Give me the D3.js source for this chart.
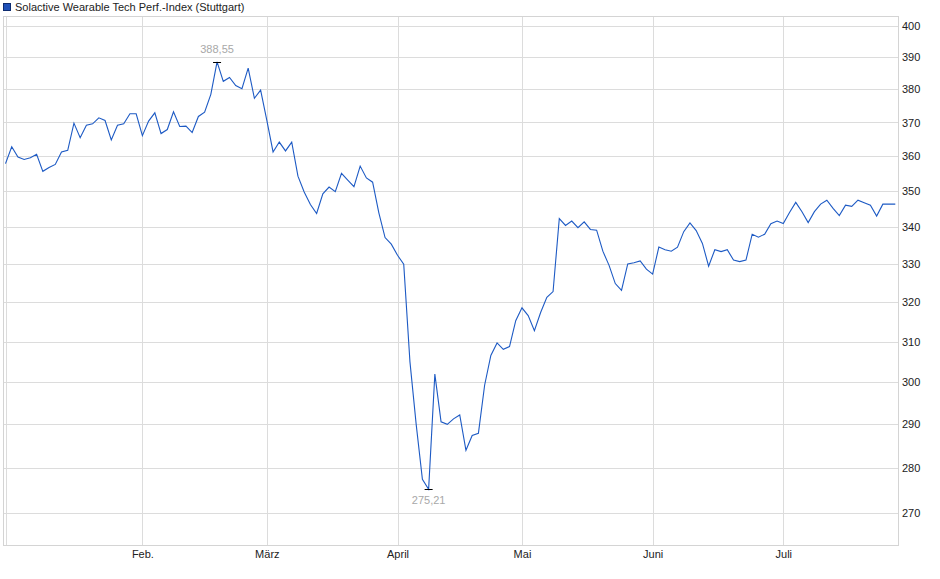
<!DOCTYPE html>
<html>
<head>
<meta charset="utf-8">
<script src="https://cdn.jsdelivr.net/npm/d3@7"></script>
<style>
    body { margin: 0; background: #fff; }
    svg { font-family: Arial, 'Liberation Sans', sans-serif; }
    .grid { stroke: #dcdcdc; stroke-width: 1; shape-rendering: crispEdges; }
    .axis text { font-size: 11px; fill: #222; }
    .axis path, .axis line { display: none; }
    .peak-label { font-size: 11px; fill: #a8a8a8; text-anchor: middle; }
</style>
</head>
<body>
<svg width="940" height="579"></svg>
<script>
// **** Data (one value per trading day, Jan 2 .. Jul 25) ****

var seriesName = 'Solactive Wearable Tech Perf.-Index (Stuttgart)';

var values = [
    357.9, 362.8, 359.8, 359.1, 359.6, 360.6, 355.7, 356.8, 357.7, 361.3,
    361.8, 369.8, 365.5, 369.2, 369.6, 371.4, 370.6, 364.8, 369.2, 369.6,
    372.6, 372.6, 366.1, 370.4, 372.9, 366.7, 367.9, 373.2, 368.8, 368.9,
    367.0, 371.8, 373.1, 378.5, 388.55, 382.5, 383.7, 381.2, 380.2, 386.6,
    377.3, 379.8, 370.6, 361.3, 364.2, 361.6, 364.2, 354.3, 349.8, 346.3,
    343.8, 349.3, 351.2, 349.9, 355.1, 353.2, 351.3, 357.2, 353.8, 352.6,
    344.0, 337.2, 335.4, 332.4, 330.0, 305.0, 290.0, 277.4, 275.21, 302.0,
    290.6, 290.0, 291.3, 292.2, 284.0, 287.4, 287.9, 299.3, 306.6, 309.7,
    308.1, 308.8, 315.3, 318.6, 316.6, 312.8, 317.4, 321.3, 322.8, 342.4,
    340.5, 341.7, 339.9, 341.5, 339.4, 339.2, 333.5, 329.7, 324.9, 323.1,
    330.1, 330.4, 330.9, 328.7, 327.4, 334.6, 333.9, 333.5, 334.6, 338.8,
    341.2, 339.1, 335.6, 329.5, 333.9, 333.4, 333.9, 331.1, 330.7, 331.1,
    338.1, 337.3, 338.1, 341.0, 341.7, 341.0, 344.1, 346.9, 344.3, 341.3,
    344.3, 346.4, 347.5, 345.2, 343.2, 346.1, 345.8, 347.5, 346.8, 346.1,
    343.1, 346.4, 346.4, 346.4
];

// first trading day of each month (index into values)
var monthStart = [0, 22, 42, 63, 83, 104, 125];
var monthLabels = ['', 'Feb.', 'März', 'April', 'Mai', 'Juni', 'Juli'];

var yTicks = [270, 280, 290, 300, 310, 320, 330, 340, 350, 360, 370, 380, 390, 400];

// **** Scales ****

var plotLeft = 3, plotRight = 898, plotTop = 16, plotBottom = 545;

var xScale = d3.scaleLinear()
    .domain([0, values.length - 1]).range([5.5, 895.3]);

var yScale = d3.scaleLog()
    .domain([263.1, 403.2]).range([plotBottom, plotTop]);

var de = d3.formatLocale({decimal: ',', thousands: '.', grouping: [3], currency: ['', ' €']});
var fmt = de.format('.2f');

var svg = d3.select('svg');

// **** Grid and frame ****

svg.append('g')
    .selectAll('line')
    .data(yTicks)
    .enter()
    .append('line')
    .attr('class', 'grid')
    .attr('x1', plotLeft).attr('x2', plotRight)
    .attr('y1', function(d) { return Math.round(yScale(d)) + 0.5; })
    .attr('y2', function(d) { return Math.round(yScale(d)) + 0.5; });

svg.append('g')
    .selectAll('line')
    .data(monthStart)
    .enter()
    .append('line')
    .attr('class', 'grid')
    .attr('x1', function(d) { return Math.round(xScale(d)) + 0.5; })
    .attr('x2', function(d) { return Math.round(xScale(d)) + 0.5; })
    .attr('y1', plotTop).attr('y2', plotBottom);

svg.append('rect')
    .attr('x', plotLeft + 0.5).attr('y', plotTop + 0.5)
    .attr('width', plotRight - plotLeft).attr('height', plotBottom - plotTop)
    .attr('fill', 'none')
    .attr('stroke', '#d4d4d4')
    .attr('shape-rendering', 'crispEdges');

// **** Axes ****

svg.append('g').attr('class', 'axis')
    .attr('transform', 'translate(' + plotRight + ',0)')
    .call(d3.axisRight(yScale).tickValues(yTicks).tickSize(0).tickPadding(4)
        .tickFormat(function(d) { return d; }));

svg.append('g').attr('class', 'axis')
    .attr('transform', 'translate(0,' + plotBottom + ')')
    .call(d3.axisBottom(xScale).tickValues(monthStart).tickSize(0).tickPadding(5)
        .tickFormat(function(d, i) { return monthLabels[i]; }));

// **** Price line ****

var line = d3.line()
    .x(function(d, i) { return xScale(i); })
    .y(function(d) { return yScale(d); });

svg.append('path')
    .datum(values)
    .attr('d', line)
    .attr('fill', 'none')
    .attr('stroke', '#1d5ac4')
    .attr('stroke-width', 1.1)
    .attr('stroke-linejoin', 'miter');

// **** High / low markers ****

var hiIdx = d3.maxIndex(values), loIdx = d3.minIndex(values);

function marker(idx, above) {
    var cx = xScale(idx), cy = yScale(values[idx]);
    var g = svg.append('g');
    var t = g.append('text')
        .attr('class', 'peak-label')
        .attr('x', cx)
        .attr('y', above ? cy - 9 : cy + 15)
        .text(fmt(values[idx]));
    var bb = t.node().getBBox();
    g.insert('rect', 'text')
        .attr('x', bb.x - 3).attr('y', bb.y)
        .attr('width', bb.width + 6).attr('height', bb.height)
        .attr('fill', '#fff');
    g.append('line')
        .attr('x1', cx - 4).attr('x2', cx + 4)
        .attr('y1', Math.round(cy) + 0.5).attr('y2', Math.round(cy) + 0.5)
        .attr('stroke', '#000')
        .attr('stroke-width', 1);
}

marker(hiIdx, true);
marker(loIdx, false);

// **** Legend ****

svg.append('rect')
    .attr('x', 3.5).attr('y', 3.5)
    .attr('width', 7).attr('height', 7)
    .attr('fill', '#1f50b8')
    .attr('stroke', '#0e2c70');

svg.append('text')
    .attr('x', 15)
    .attr('y', 10.5)
    .attr('font-size', '11px')
    .attr('fill', '#222')
    .text(seriesName);
</script>
</body>
</html>
